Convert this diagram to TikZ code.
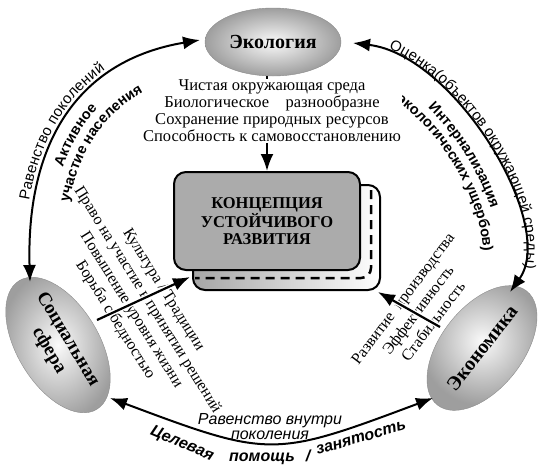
\documentclass[tikz,border=0pt]{standalone}
\usepackage{fontspec}
\setmainfont{Liberation Serif}
\setsansfont{Liberation Sans}
\usetikzlibrary{shapes.geometric,arrows.meta,decorations.text}

\newcommand{\arcfont}{\sffamily\fontsize{15}{15}\selectfont}
\newcommand{\arcbold}{\sffamily\bfseries\fontsize{14.5}{15}\selectfont}

\begin{document}
\begin{tikzpicture}[x=1pt,y=-1pt,
    sphere/.style={ellipse,draw=black!45,inner color=black!2,outer color=black!38,
      minimum width=130pt,minimum height=82pt,inner sep=0pt,align=center,
      font=\bfseries\fontsize{20}{22}\selectfont},
    concept/.style={draw,line width=2pt,rounded corners=12pt,fill=black!33,
      minimum width=186pt,minimum height=98pt,align=center,
      font=\bfseries\fontsize{16.5}{17}\selectfont},
    notes/.style={align=center,inner sep=0pt,font=\fontsize{16}{19}\selectfont},
    lowlbl/.style={inner sep=0pt,align=center,font=\sffamily\itshape\fontsize{16}{15}\selectfont},
    lowbold/.style={inner sep=0pt,font=\sffamily\bfseries\itshape\fontsize{16}{16}\selectfont},
    bigarc/.style={{Latex[length=17pt,width=13pt]}-{Latex[length=17pt,width=13pt]},line width=2pt},
    feed/.style={-{Latex[length=17pt,width=13pt]},line width=2.2pt},
    feedhalo/.style={feed,preaction={draw=white,line width=5pt,-,shorten >=18pt,shorten <=3pt}},
  ]
  \useasboundingbox (0,0) rectangle (539,467);

  % shadow of the centre box
  \draw[line width=2pt,rounded corners=12pt,left color=black!35,right color=white]
    (193,185) rectangle (380,290);
  \draw[line width=2.5pt,dash pattern=on 9pt off 6pt,rounded corners=10pt]
    (371,190) -- (371,278) -- (195,278);
  \node[concept] (box) at (267,221) {КОНЦЕПЦИЯ\\УСТОЙЧИВОГО\\РАЗВИТИЯ};

  \node[sphere,minimum width=136pt,minimum height=68pt] (eco) at (273,42) {Экология};
  \node[sphere,rotate=-59,font=\bfseries\fontsize{19}{22}\selectfont] (soc) at (58,345) {Социальная\\сфера};
  \node[sphere,rotate=52] (econ) at (482,348) {Экономика};

  \coordinate (socN) at (30,282);
  \coordinate (ecoW) at (200,40);
  \coordinate (ecoE) at (353,43);
  \coordinate (econN) at (510,292);
  \coordinate (socS) at (110,398);
  \coordinate (econS) at (433,398);

  \draw[bigarc] (socN) .. controls (26,140) and (80,60) .. (ecoW);
  \draw[bigarc] (ecoE) .. controls (455,55) and (558,225) .. (econN);
  \draw[bigarc] (socS) .. controls (270,458) and (273,458) .. (econS);

  % labels along the arcs
  \path[decorate,decoration={text along path,text align={center,right indent=18pt},raise=6pt,
      text={|\arcfont|Равенство поколений}}]
    (socN) .. controls (26,140) and (80,60) .. (ecoW);
  \path[decorate,decoration={text along path,text align=center,
      text={|\arcbold|Активное}}]
    (48,282) .. controls (44.4,150.6) and (92.7,76.5) .. (200,58);
  \path[decorate,decoration={text along path,text align={center,left indent=20pt},
      text={|\arcbold|участие населения}}]
    (63,282) .. controls (59.8,159.4) and (103.3,90.3) .. (200,73);
  \path[decorate,decoration={text along path,text align={center,left indent=8pt},raise=4.5pt,
      text={|\arcfont|Оценка(объектов окружающей среды)}}]
    (ecoE) .. controls (455,55) and (558,225) .. (econN);
  \path[decorate,decoration={text along path,text align=center,
      text={|\arcbold|Интернализация}}]
    (353,67) .. controls (440.9,77.8) and (529.7,231.5) .. (488.3,292);
  \path[decorate,decoration={text along path,text align=center,
      text={|\arcbold|(экологических ущербов)}}]
    (353,83) .. controls (431.6,93.1) and (510.9,235.8) .. (473.9,292);

  \draw[feed] (eco.south -| box.north) -- (box.north);
  \node[notes,fill=white,inner sep=1pt,font=\fontsize{16.5}{17}\selectfont] (ecolist) at (272,111)
    {Чистая окружающая среда\\Биологическое\quad разнообразне\\
     Сохранение природных ресурсов\\Способность к самовосстановлению};

  \node[notes,rotate=-58] (soclist) at (139,305)
    {Культура / Традиции\\Право на участие в принятии решений\\
     Повышение уровня жизни\\Борьба с бедностью};
  \node[notes,rotate=53] (econlist) at (418,310)
    {Развитие\enspace производства\\Эффективность\\Стабильность};

  \coordinate (socfeed) at (97,320);
  \coordinate (boxsw) at (190,277);
  \coordinate (econfeed) at (440,327);
  \coordinate (boxse) at (378,292);
  \draw[feedhalo] (socfeed) -- (boxsw);
  \draw[feedhalo] (econfeed) -- (boxse);

  \node[lowlbl] (within) at (270,427) {Равенство внутри\\поколения};
  \node[lowbold,rotate=-23] (aid) at (182,444) {Целевая};
  \node[lowbold] (help) at (262,459) {помощь};
  \node[lowbold] (slash) at (308,456) {/};
  \node[lowbold,rotate=16] (job) at (361,438) {занятость};
\end{tikzpicture}
\end{document}
